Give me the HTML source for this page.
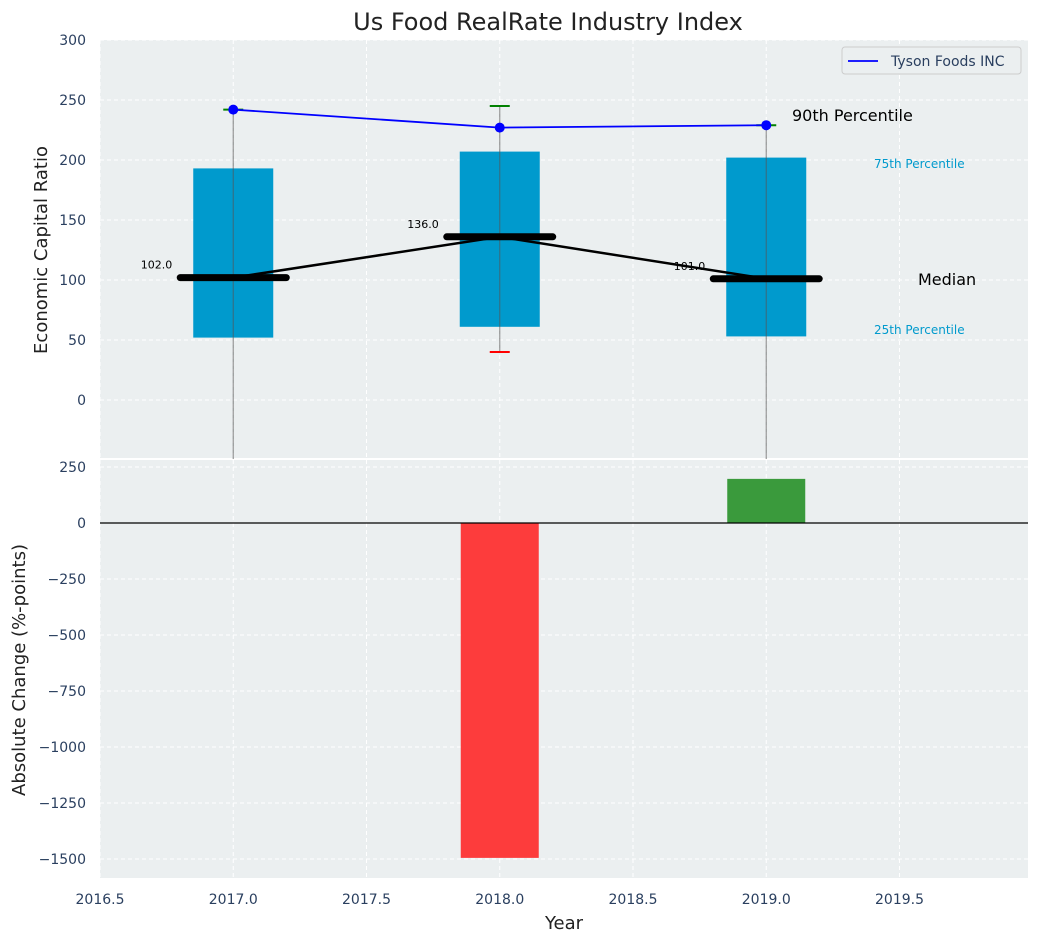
<!DOCTYPE html>
<html><head><meta charset="utf-8"><style>
body{margin:0;background:#fff;font-family:"Liberation Sans","DejaVu Sans",sans-serif}
svg text{font-family:"DejaVu Sans","Liberation Sans",sans-serif}
</style></head><body>
<svg id="c" width="1039" height="942" xmlns="http://www.w3.org/2000/svg"></svg>
<script>
const years=[2017,2018,2019];
const q25=[52,61,53];
const q75=[193,207,202];
const medians=[102,136,101];
const p90=[242,245,229];
const p10=[-60,40,-60];
const tyson=[242,227,229];
const changes=[0,-1495,197];
const topTicks=[0,50,100,150,200,250,300];
const botTicks=[250,0,-250,-500,-750,-1000,-1250,-1500];
const xTicks=[2016.5,2017,2017.5,2018,2018.5,2019,2019.5];

const NS="http://www.w3.org/2000/svg",svg=document.getElementById('c');
function el(t,a,txt,p){const e=document.createElementNS(NS,t);for(const k in a)e.setAttribute(k,a[k]);if(txt!=null)e.textContent=txt;(p||svg).appendChild(e);return e;}
const L=100,R=1028,T1=40,B1=459,T2=459,B2=878;
function X(v){return 100+(v-2016.5)*266.5;}
const y1=v=>400-v*1.2;
const y2=v=>523-v*56/250;

let r=el('rect',{x:L,y:T1,width:R-L,height:B1-T1,fill:'#ebeff0'});

r=el('rect',{x:L,y:T2,width:R-L,height:B2-T2,fill:'#ebeff0'});

el('line',{x1:L,x2:R,y1:459,y2:459,stroke:'#fff','stroke-width':2});

xTicks.forEach(t=>{
  el('line',{x1:X(t),x2:X(t),y1:T1,y2:B2,stroke:'#fff','stroke-dasharray':'4,3','stroke-width':1});
  let tx=el('text',{x:X(t),y:904,'text-anchor':'middle','font-size':14,fill:'#2a3f5f'},t.toFixed(1));
  
});
topTicks.forEach(t=>{
  el('line',{x1:L,x2:R,y1:y1(t),y2:y1(t),stroke:'#fff','stroke-dasharray':'4,3'});
  let tx=el('text',{x:86,y:y1(t)+5,'text-anchor':'end','font-size':14,fill:'#2a3f5f'},t);
  
});
botTicks.forEach(t=>{
  el('line',{x1:L,x2:R,y1:y2(t),y2:y2(t),stroke:'#fff','stroke-dasharray':'4,3'});
  let tx=el('text',{x:86,y:y2(t)+5,'text-anchor':'end','font-size':14,fill:'#2a3f5f'},t===0?'0':String(t).replace('-','\u2212'));
  
});

const bw=80;
years.forEach((yr,i)=>{
  const cx=X(yr);
  let b=el('rect',{x:cx-bw/2,y:y1(q75[i]),width:bw,height:y1(q25[i])-y1(q75[i]),fill:'#009ACD'});
  
  let w=el('line',{x1:cx,x2:cx,y1:y1(p90[i]),y2:Math.min(B1,y1(p10[i])),stroke:'#555','stroke-opacity':0.6,'stroke-width':1.2});
  
  let c=el('line',{x1:cx-10,x2:cx+10,y1:y1(p90[i]),y2:y1(p90[i]),stroke:'green','stroke-width':2});
  
  if(y1(p10[i])<B1){let c2=el('line',{x1:cx-10,x2:cx+10,y1:y1(p10[i]),y2:y1(p10[i]),stroke:'red','stroke-width':2});
  }
});
el('polyline',{points:years.map((yr,i)=>X(yr)+','+y1(medians[i])).join(' '),fill:'none',stroke:'#000','stroke-width':2.5});
years.forEach((yr,i)=>{
  const cx=X(yr);
  let m=el('line',{x1:cx-53,x2:cx+53,y1:y1(medians[i]),y2:y1(medians[i]),stroke:'#000','stroke-width':7,'stroke-linecap':'round'});
  
  let t=el('text',{x:cx-61,y:y1(medians[i])-9,'text-anchor':'end','font-size':11,fill:'#000'},medians[i].toFixed(1));
  
});
el('polyline',{points:years.map((yr,i)=>X(yr)+','+y1(tyson[i])).join(' '),fill:'none',stroke:'blue','stroke-width':1.8});
years.forEach((yr,i)=>{let p=el('circle',{cx:X(yr),cy:y1(tyson[i]),r:5,fill:'blue'});
});

const ann=[['90th Percentile',792,121,16,'#000'],['75th Percentile',874,168,12,'#009ACD'],['Median',918,285,16,'#000'],['25th Percentile',874,334,12,'#009ACD']];
ann.forEach(a=>{let t=el('text',{x:a[1],y:a[2],'font-size':a[3],fill:a[4]},a[0]);
});

let lg=el('g',{});
el('rect',{x:842,y:47,width:179,height:27,fill:'#ebeff0',stroke:'#ccc',rx:3},null,lg);
el('line',{x1:848,x2:878,y1:61,y2:61,stroke:'blue','stroke-width':1.8},null,lg);
el('text',{x:891,y:66,'font-size':14,fill:'#2a3f5f'},'Tyson Foods INC',lg);

years.forEach((yr,i)=>{
  if(!changes[i])return;
  const cx=X(yr),v=changes[i];
  let b=el('rect',{x:cx-39,y:Math.min(y2(0),y2(v)),width:78,height:Math.abs(y2(v)-y2(0)),fill:v<0?'#fd3c3c':'#3a9a3c'});
  
});
el('line',{x1:L,x2:R,y1:y2(0),y2:y2(0),stroke:'#000','stroke-width':1.2});

let t=el('text',{x:548,y:30,'text-anchor':'middle','font-size':24,fill:'#222'},'Us Food RealRate Industry Index');

t=el('text',{x:564,y:929,'text-anchor':'middle','font-size':18,fill:'#222'},'Year');

t=el('text',{x:47,y:250,'text-anchor':'middle','font-size':18,fill:'#222',transform:'rotate(-90 47 250)'},'Economic Capital Ratio');

t=el('text',{x:25,y:670,'text-anchor':'middle','font-size':18,fill:'#222',transform:'rotate(-90 25 670)'},'Absolute Change (%-points)');

</script>
</body></html>
